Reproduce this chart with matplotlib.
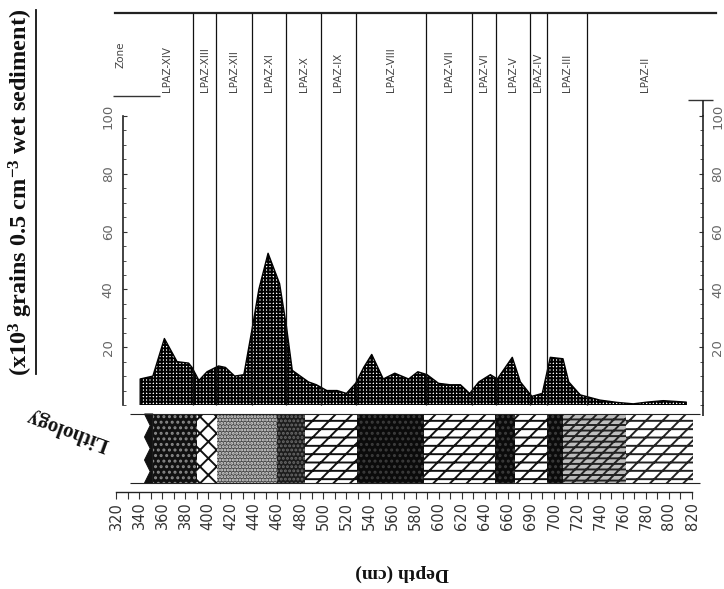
import numpy as np
import matplotlib
matplotlib.use("Agg")
import matplotlib.pyplot as plt
from matplotlib.patches import Rectangle, Polygon
from matplotlib.lines import Line2D
from matplotlib.ticker import MultipleLocator, FixedLocator

plt.rcParams['mathtext.fontset'] = 'custom'
plt.rcParams['mathtext.rm'] = 'Liberation Serif:bold'
plt.rcParams['mathtext.it'] = 'Liberation Serif:bold'
plt.rcParams['mathtext.bf'] = 'Liberation Serif:bold'
plt.rcParams['hatch.linewidth'] = 1.4

W, H, DPI = 724, 589, 100

# Pollen concentration (x10^3 grains per 0.5 cm^3 wet sediment) against depth
depth_cm = [341, 352, 362, 373, 383, 386, 392, 399, 409, 415, 423, 431, 438,
            444, 452, 462, 468, 473, 480, 487, 494, 503, 512, 520, 528, 535,
            542, 552, 562, 568, 574, 582, 590, 600, 610, 619, 627, 635, 645,
            651, 664, 671, 681, 690, 697, 708, 713, 723, 740, 755, 769, 781,
            795, 807, 815]
grains = [9, 10, 23, 15, 14.5, 13, 8.5, 11.5, 13.5, 13, 10, 10.5, 26,
          40, 52.5, 42, 27, 12, 10, 8, 7, 5, 5, 4, 7.5, 13,
          17.5, 9, 11, 10, 9, 11.5, 10.5, 7.5, 7, 7, 4, 8, 10.5,
          9, 16.5, 8, 3, 4, 16.5, 16, 8, 3.5, 1.7, 0.9, 0.4, 1,
          1.5, 1.2, 1.0]

# Local pollen assemblage zones (depth limits in cm)
zone_names = ['LPAZ-XIV', 'LPAZ-XIII', 'LPAZ-XII', 'LPAZ-XI', 'LPAZ-X',
              'LPAZ-IX', 'LPAZ-VIII', 'LPAZ-VII', 'LPAZ-VI', 'LPAZ-V',
              'LPAZ-IV', 'LPAZ-III', 'LPAZ-II']
zone_limits = [341, 387, 407, 438, 468, 498, 528, 589, 629, 650, 679, 694, 729, 830]

# Lithology units (depth limits in cm)
litho_limits = [343, 352, 390, 408, 460, 484, 529, 587, 649, 666, 694, 708, 763, 821]
litho_kind = ['zigzag', 'black_dots', 'cross', 'grey_dots', 'dark_dots', 'silt',
              'black', 'silt', 'black', 'silt', 'black', 'dash_dense', 'dash']

depth_ticks = list(range(320, 821, 20))
depth_tick_labels = ['320', '340', '360', '380', '400', '420', '440', '460',
                     '480', '500', '520', '540', '560', '580', '600', '620',
                     '640', '660', '690', '700', '720', '740', '760', '780',
                     '800', '820']
conc_ticks = [20, 40, 60, 80, 100]

fig = plt.figure(figsize=(W / DPI, H / DPI), dpi=DPI)
fig.patch.set_facecolor('white')

PX_PER_CM = 1.152


def px2cm(px):
    return 320 + (px - 116) / PX_PER_CM


def px_axes(x0, y0, x1, y1):
    return fig.add_axes([x0 / W, 1 - y1 / H, (x1 - x0) / W, (y1 - y0) / H])


# ---- concentration curve ----
ax = px_axes(123, 116, 703, 405)
ax.set_xlim(px2cm(123), px2cm(703))
ax.set_ylim(0, 100)
ax.patch.set_alpha(0)
ax.fill_between(depth_cm, grains, 0, facecolor='white', edgecolor='black',
                hatch='+++++', linewidth=1.0, zorder=2)
for s in ('top', 'bottom'):
    ax.spines[s].set_visible(False)
for s in ('left', 'right'):
    ax.spines[s].set_linewidth(1.2)
    ax.spines[s].set_color('#222')
ax.set_xticks([])
ax.yaxis.set_major_locator(FixedLocator(conc_ticks))
ax.yaxis.set_minor_locator(MultipleLocator(5))
ax.tick_params(axis='y', which='both', left=True, right=True, labelleft=True,
               labelright=True, direction='in', color='#333')
ax.tick_params(axis='y', which='major', length=3, width=0.8, pad=6,
               labelsize=9.5, labelcolor='#666')
ax.tick_params(axis='y', which='minor', length=2, width=0.6)
for lab in ax.get_yticklabels(which='both'):
    lab.set_rotation(90)
    lab.set_va('center')

# ---- depth axis ----
axd = px_axes(116, 480, 692, 492)
axd.set_xlim(320, 820)
axd.patch.set_alpha(0)
for s in ('top', 'left', 'right'):
    axd.spines[s].set_visible(False)
axd.spines['bottom'].set_linewidth(1.0)
axd.spines['bottom'].set_color('#222')
axd.set_yticks([])
axd.xaxis.set_major_locator(FixedLocator(depth_ticks))
axd.set_xticklabels(depth_tick_labels, rotation=90, fontsize=10.5, color='#333')
axd.xaxis.set_minor_locator(MultipleLocator(10))
axd.tick_params(axis='x', which='both', direction='out', length=5, width=0.8,
                color='#333', pad=2)

# ---- overlay for zones and lithology (x in cm, y in pixel rows) ----
ov = fig.add_axes([0, 0, 1, 1])
ov.set_xlim(px2cm(0), px2cm(W))
ov.set_ylim(H, 0)
ov.axis('off')
ov.patch.set_alpha(0)

ov.plot([px2cm(115), px2cm(716)], [13, 13], lw=1.6, color='#222')
ov.vlines(zone_limits[1:-1], 13, 405, lw=0.9, color='#111')
for i, name in enumerate(zone_names):
    c = 0.5 * (zone_limits[i] + zone_limits[i + 1])
    ov.text(c, 92, name, rotation=90, ha='center', va='bottom',
            fontsize=7.5, color='#444')
ov.text(px2cm(120), 55, 'Zone', rotation=90, ha='center', va='center',
        fontsize=7.5, color='#444')

ov.hlines(96, px2cm(113), px2cm(160), lw=1.0, color='#333')
ov.hlines(100, px2cm(688), px2cm(713), lw=1.0, color='#333')
ov.vlines(px2cm(703), 100, 116, lw=1.2, color='#222')
ov.vlines(px2cm(703), 405, 416, lw=1.2, color='#222')

styles = {
    'black_dots': dict(facecolor='#111111', edgecolor='#8a8a8a', hatch='...'),
    'cross': dict(facecolor='white', edgecolor='#111', hatch='xx'),
    'grey_dots': dict(facecolor='#4a4a4a', edgecolor='#e0e0e0', hatch='.....'),
    'dark_dots': dict(facecolor='#1c1c1c', edgecolor='#6a6a6a', hatch='....'),
    'silt': dict(facecolor='white', edgecolor='#111', hatch='--//'),
    'black': dict(facecolor='#0b0b0b', edgecolor='#3c3c3c', hatch='...'),
    'dash_dense': dict(facecolor='#bdbdbd', edgecolor='#222', hatch='///---'),
    'dash': dict(facecolor='white', edgecolor='#222', hatch='//--'),
}
LT, LB = 414, 483
for i, kind in enumerate(litho_kind):
    a, b = litho_limits[i], litho_limits[i + 1]
    if kind == 'zigzag':
        ov.add_patch(Rectangle((a, LT), b - a, LB - LT, facecolor='white',
                               edgecolor='none', lw=0))
        ys = np.linspace(LT, LB, 7)
        xs = [a + (0.2 if k % 2 == 0 else 0.75) * (b - a) for k in range(len(ys))]
        verts = [(b, LT)] + list(zip(xs, ys)) + [(b, LB)]
        ov.add_patch(Polygon(verts, closed=True, facecolor='#111', edgecolor='#111', lw=0.8))
    else:
        ov.add_patch(Rectangle((a, LT), b - a, LB - LT, lw=0, **styles[kind]))
ov.hlines([LT, LB], px2cm(130), px2cm(700), lw=0.8, color='#222')

# ---- titles ----
ylab = fig.text(21 / W, 1 - 192 / H,
                r'(x10$^{3}$ grains 0.5 cm$^{-3}$ wet sediment)',
                rotation=90, fontsize=17.5, family='Liberation Serif',
                weight='bold', ha='center', va='center', color='#111')
fig.text(68 / W, 1 - 430 / H, 'Lithology', rotation=160, fontsize=15,
         family='Liberation Serif', weight='bold', ha='center', va='center',
         color='#111')
fig.text(402 / W, 1 - 573 / H, 'Depth (cm)', rotation=180, fontsize=14,
         family='Liberation Serif', weight='bold', ha='center', va='center',
         color='#111')

fig.canvas.draw()
bb = ylab.get_window_extent(fig.canvas.get_renderer())
xu = (bb.x1 + 1) / W
fig.add_artist(Line2D([xu, xu], [(bb.y0 + 2) / H, (bb.y1 - 2) / H],
                      transform=fig.transFigure, color='#111', lw=1.3))

fig.savefig('out.png', dpi=DPI, facecolor='white')
